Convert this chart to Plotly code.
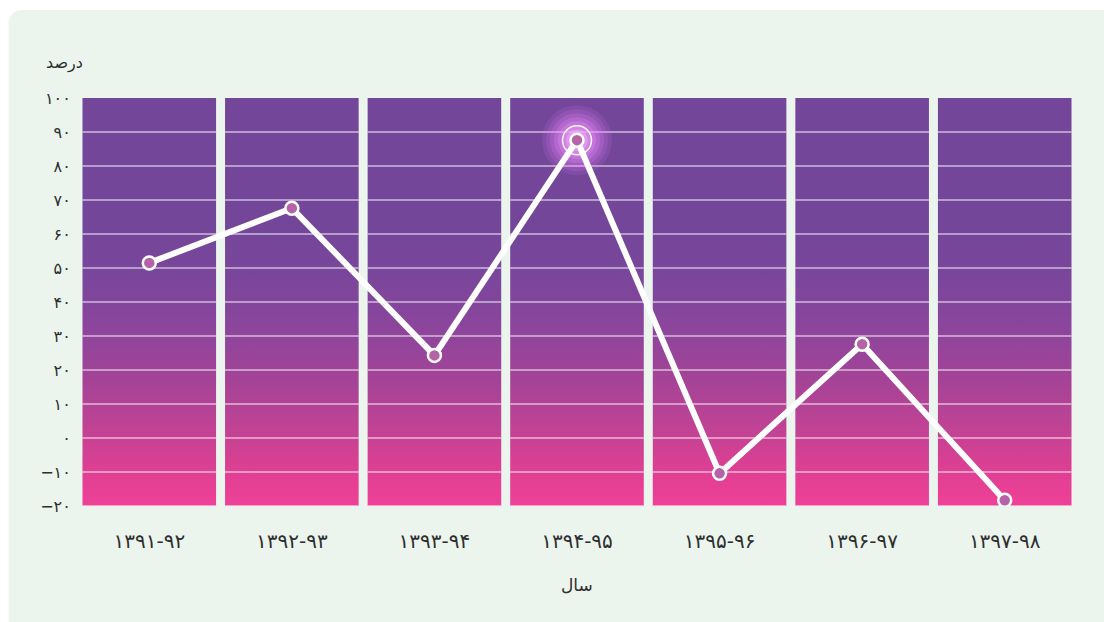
import plotly.graph_objects as go

# ---------------- data ----------------
categories = ["۱۳۹۱-۹۲", "۱۳۹۲-۹۳", "۱۳۹۳-۹۴", "۱۳۹۴-۹۵", "۱۳۹۵-۹۶", "۱۳۹۶-۹۷", "۱۳۹۷-۹۸"]
values = [51.5, 67.6, 24.3, 87.6, -10.4, 27.6, -18.3]
y_ticks = [-20, -10, 0, 10, 20, 30, 40, 50, 60, 70, 80, 90, 100]
y_tick_labels = ["−۲۰", "−۱۰", "۰", "۱۰", "۲۰", "۳۰", "۴۰", "۵۰", "۶۰", "۷۰", "۸۰", "۹۰", "۱۰۰"]
y_title = "درصد"
x_title = "سال"

# ---------------- style ----------------
W, H = 1104, 622
ML, MR, MT, MB = 77.5, 27.5, 98, 116
PW, PH = W - ML - MR, H - MT - MB
FONT = "DejaVu Sans"
TXT = "#2e2e2e"
half = 0.4685  # half width of each column band (category units)

n = len(categories)
idx = list(range(n))
ymin, ymax = y_ticks[0], y_ticks[-1]

fig = go.Figure()

# column bands with vertical gradient
bx, by = [], []
for i in idx:
    bx += [i - half, i + half, i + half, i - half, i - half, None]
    by += [ymin, ymin, ymax, ymax, ymin, None]
fig.add_trace(go.Scatter(
    x=bx, y=by, mode="lines", fill="toself",
    line=dict(width=0, color="rgba(0,0,0,0)"),
    fillgradient=dict(type="vertical", colorscale=[
        [0.0, "#EE4197"], [0.08, "#E03F93"], [0.15, "#CC4193"], [0.22, "#B94395"],
        [0.31, "#A44396"], [0.40, "#92459B"], [0.49, "#83469C"], [0.58, "#78469B"],
        [0.67, "#74469A"], [1.0, "#74469A"]]),
    hoverinfo="skip", showlegend=False))

# grid lines inside bands
gx, gy = [], []
for t in y_ticks[1:-1]:
    for i in idx:
        gx += [i - half, i + half, None]
        gy += [t, t, None]
fig.add_trace(go.Scatter(x=gx, y=gy, mode="lines",
                         line=dict(color="rgba(255,255,255,0.95)", width=1),
                         hoverinfo="skip", showlegend=False))
lx, ly = [], []
for i in idx:
    lx += [i - half, i + half, None]
    ly += [ymin, ymin, None]
fig.add_trace(go.Scatter(x=lx, y=ly, mode="lines",
                         line=dict(color="rgba(255,255,255,0.5)", width=2),
                         hoverinfo="skip", showlegend=False))

# glow on maximum point
k = max(idx, key=lambda i: values[i])
for s, c in [(70, "rgba(235,130,255,0.12)"), (62, "rgba(235,130,255,0.15)"),
             (54, "rgba(238,138,255,0.18)"), (46, "rgba(240,145,255,0.22)"),
             (38, "rgba(242,155,255,0.26)"), (30, "rgba(245,170,255,0.3)"),
             (22, "rgba(248,190,255,0.35)")]:
    fig.add_trace(go.Scatter(x=[k], y=[values[k]], mode="markers",
                             marker=dict(size=s, color=c, line=dict(width=0)),
                             hoverinfo="skip", showlegend=False))
fig.add_trace(go.Scatter(x=[k], y=[values[k]], mode="markers",
                         marker=dict(size=29, symbol="circle-open", color="rgba(255,255,255,0.95)",
                                     line=dict(color="rgba(255,255,255,0.95)", width=1.5)),
                         hoverinfo="skip", showlegend=False))

# main line
fig.add_trace(go.Scatter(x=idx, y=values, mode="lines+markers",
                         line=dict(color="white", width=6),
                         marker=dict(size=13, color="#B463A8", line=dict(color="white", width=2.5)),
                         showlegend=False))

# panel background (rounded rect) in paper coords
def px2x(p):
    return (p - ML) / PW

def py2y(p):
    return (H - MB - p) / PH

x0, x1, y0, y1, r = 8, 1120, 10, 640, 15
rx, ry = r / PW, r / PH
X0, X1, Y0, Y1 = px2x(x0), px2x(x1), py2y(y0), py2y(y1)
path = (f"M {X0+rx},{Y0} L {X1-rx},{Y0} Q {X1},{Y0} {X1},{Y0-ry} "
        f"L {X1},{Y1+ry} Q {X1},{Y1} {X1-rx},{Y1} L {X0+rx},{Y1} Q {X0},{Y1} {X0},{Y1+ry} "
        f"L {X0},{Y0-ry} Q {X0},{Y0} {X0+rx},{Y0} Z")
fig.add_shape(type="path", path=path, xref="paper", yref="paper",
              fillcolor="#EBF5EE", line=dict(width=0), layer="below")

fig.add_annotation(text=y_title, xref="paper", yref="paper", x=px2x(64), y=py2y(63),
                   showarrow=False, font=dict(family=FONT, size=16, color=TXT),
                   xanchor="center", yanchor="middle")
fig.add_annotation(text=x_title, xref="paper", yref="paper", x=0.5, y=py2y(585),
                   showarrow=False, font=dict(family=FONT, size=17, color=TXT),
                   xanchor="center", yanchor="middle")

fig.update_layout(
    width=W, height=H,
    margin=dict(l=ML, r=MR, t=MT, b=MB, pad=0),
    paper_bgcolor="white", plot_bgcolor="rgba(0,0,0,0)",
    xaxis=dict(range=[-0.5, n - 0.5], tickvals=idx, ticktext=categories,
               showgrid=False, zeroline=False, showline=False,
               ticks="outside", ticklen=17, tickcolor="rgba(0,0,0,0)",
               tickfont=dict(family=FONT, size=20, color=TXT), fixedrange=True),
    yaxis=dict(range=[ymin, ymax], tickvals=y_ticks, ticktext=y_tick_labels,
               showgrid=False, zeroline=False, showline=False,
               ticks="outside", ticklen=3, tickcolor="rgba(0,0,0,0)",
               tickfont=dict(family=FONT, size=16, color=TXT), fixedrange=True),
    hovermode=False,
)

fig.write_html("out.html", config={"displayModeBar": False},
               post_script="document.body.style.margin='0';")
